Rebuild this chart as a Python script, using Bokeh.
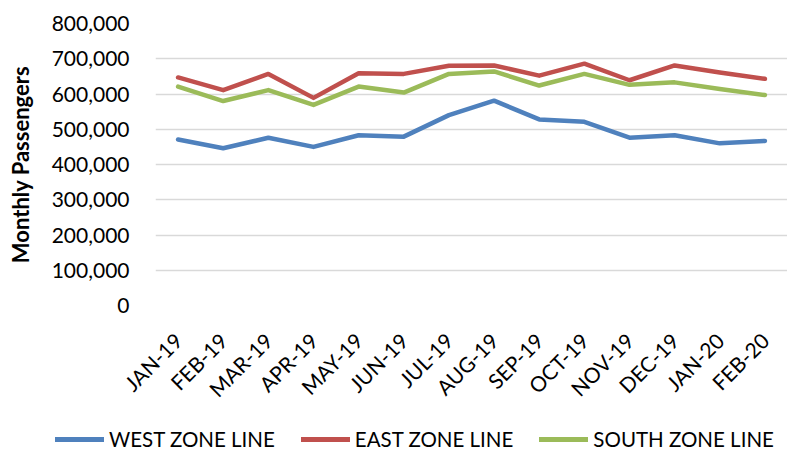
import math
from bokeh.plotting import figure
from bokeh.models import (FactorRange, NumeralTickFormatter, FixedTicker, Legend, LegendItem,
                          ColumnDataSource, Range1d)
from bokeh.embed import file_html
from bokeh.resources import INLINE

months = ["JAN-19", "FEB-19", "MAR-19", "APR-19", "MAY-19", "JUN-19", "JUL-19",
          "AUG-19", "SEP-19", "OCT-19", "NOV-19", "DEC-19", "JAN-20", "FEB-20"]
west = [471000, 446000, 476000, 450000, 483000, 479000, 540000,
        581000, 528000, 521000, 476000, 483000, 460000, 467000]
east = [647000, 611000, 657000, 589000, 659000, 657000, 680000,
        681000, 652000, 686000, 639000, 681000, 661000, 643000]
south = [621000, 580000, 611000, 569000, 621000, 604000, 657000,
         664000, 624000, 657000, 626000, 633000, 614000, 597000]
series_names = ["WEST ZONE LINE", "EAST ZONE LINE", "SOUTH ZONE LINE"]
y_ticks = [0, 100000, 200000, 300000, 400000, 500000, 600000, 700000, 800000]

colors = ["#4F81BD", "#C0504D", "#9BBB59"]
FONT = "Lato"
LW = 4.5

p = figure(x_range=FactorRange(factors=months), y_range=(0, 800000),
           frame_width=632, frame_height=282, output_backend="svg", toolbar_location=None,
           min_border_left=155, min_border_right=0, min_border_top=23, min_border_bottom=119)
p.outline_line_color = None
p.xgrid.grid_line_color = None
p.ygrid.grid_line_color = "#D9D9D9"
p.ygrid.grid_line_width = 1.3

p.yaxis.ticker = FixedTicker(ticks=y_ticks)
p.yaxis.formatter = NumeralTickFormatter(format="0,0")
p.yaxis.axis_line_color = None
p.yaxis.major_tick_line_color = None
p.yaxis.minor_tick_line_color = None
p.yaxis.major_label_standoff = 20
p.yaxis.major_label_text_font = FONT
p.yaxis.major_label_text_font_size = "21px"
p.yaxis.major_label_text_color = "#000000"
p.yaxis.axis_label = "Monthly Passengers"
p.yaxis.axis_label_text_font = FONT
p.yaxis.axis_label_text_font_style = "bold"
p.yaxis.axis_label_text_font_size = "22px"
p.yaxis.axis_label_text_color = "#000000"
p.yaxis.axis_label_standoff = 15

p.xaxis.axis_line_color = None
p.xaxis.major_tick_line_color = None
p.xaxis.minor_tick_line_color = None
p.xaxis.major_label_orientation = math.pi / 4
p.xaxis.major_label_standoff = 25
p.xaxis.major_label_text_font = FONT
p.xaxis.major_label_text_font_size = "21px"
p.xaxis.major_label_text_color = "#000000"

all_series = [west, east, south]
for name, vals, c in zip(series_names, all_series, colors):
    src = ColumnDataSource(dict(x=months, y=vals))
    p.line("x", "y", source=src, line_color=c, line_width=LW,
           line_join="round", line_cap="round")

# legend strip below the chart (a separate root, so its frame is not aligned to the chart)
lg = figure(width=787, height=30, output_backend="svg", toolbar_location=None,
            x_range=FactorRange(factors=months), y_range=Range1d(0, 1),
            x_axis_location=None, y_axis_location=None,
            min_border_left=0, min_border_right=0, min_border_top=0, min_border_bottom=0)
lg.outline_line_color = None
lg.xgrid.grid_line_color = None
lg.ygrid.grid_line_color = None
items = []
for name, vals, c in zip(series_names, all_series, colors):
    # same series, outside this strip's y-range: only its legend swatch shows
    r = lg.line(x=months, y=vals, line_color=c, line_width=5, line_cap="round")
    items.append(LegendItem(label=name, renderers=[r]))
legend = Legend(items=items, orientation="horizontal", location=(55, 3),
                label_text_font=FONT, label_text_font_size="20.5px",
                label_text_color="#000000", glyph_width=49, glyph_height=20,
                label_standoff=5, spacing=26, border_line_color=None,
                background_fill_alpha=0, margin=0, padding=0)
lg.add_layout(legend, "center")

open("out.html", "w").write(file_html([p, lg], INLINE))
